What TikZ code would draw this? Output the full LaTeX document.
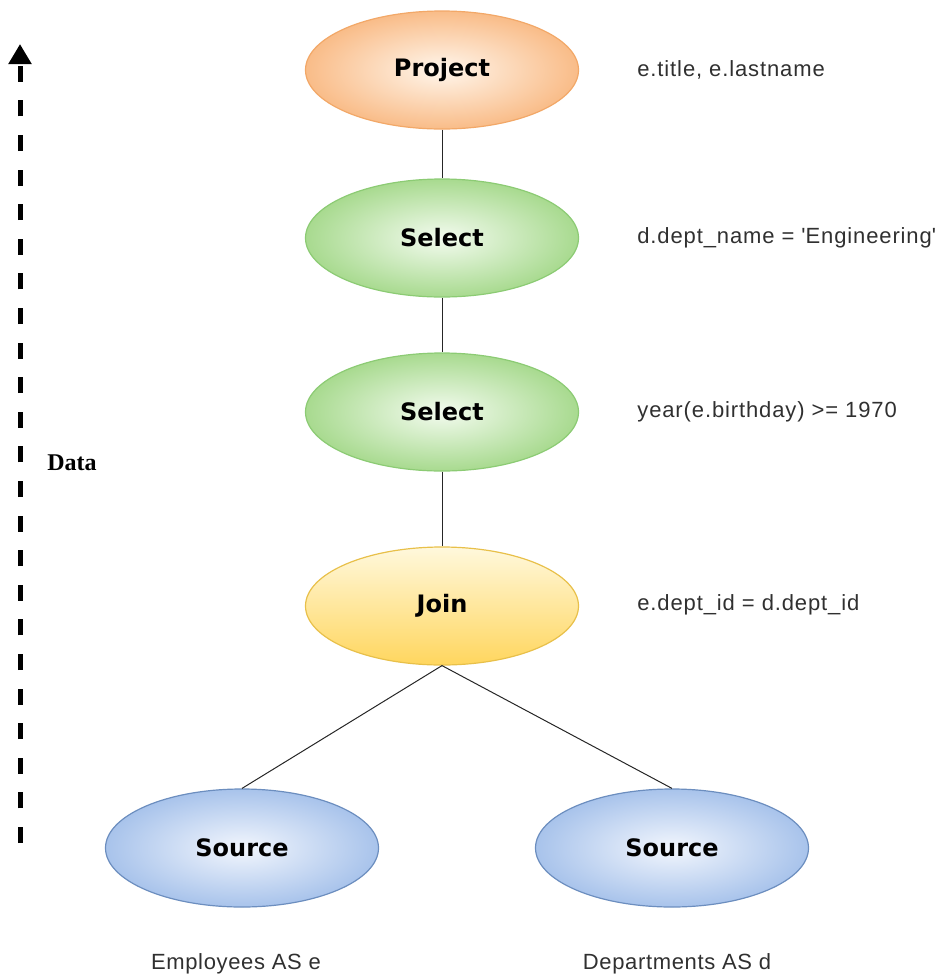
\documentclass[tikz,border=0pt]{standalone}
\usepackage{fontspec}
\setmainfont{Liberation Sans}
\newfontfamily\opfont{DejaVu Sans}
\newfontfamily\condfont[LetterSpace=4]{Liberation Sans}
\newfontfamily\tabfont[LetterSpace=3]{Liberation Sans}
\newfontfamily\datafont{Liberation Serif}
\usetikzlibrary{shapes.geometric,arrows.meta}

\definecolor{projline}{HTML}{F2A868}
\definecolor{projin}{HTML}{FFF6EC}
\definecolor{projout}{HTML}{F9BC88}
\definecolor{selline}{HTML}{8CCB74}
\definecolor{selin}{HTML}{F3FBEF}
\definecolor{selout}{HTML}{A8DA8F}
\definecolor{joinline}{HTML}{E8C04A}
\definecolor{jointop}{HTML}{FFF8DC}
\definecolor{joinbot}{HTML}{FFD65E}
\definecolor{srcline}{HTML}{6C8EBF}
\definecolor{srcin}{HTML}{F2F6FD}
\definecolor{srcout}{HTML}{A8C3EB}
\definecolor{condgray}{HTML}{303030}

\begin{document}
\begin{tikzpicture}[x=0.5pt, y=-0.5pt,
    op/.style={ellipse, draw, line width=0.6pt, minimum width=136.5pt, minimum height=59pt,
        inner sep=0pt, font=\opfont\bfseries\fontsize{12}{14}\selectfont},
    projectop/.style={op, draw=projline, inner color=projin, outer color=projout},
    selectop/.style={op, draw=selline, inner color=selin, outer color=selout},
    joinop/.style={op, draw=joinline, top color=jointop, bottom color=joinbot},
    sourceop/.style={op, draw=srcline, inner color=srcin, outer color=srcout},
    cond/.style={anchor=west, inner sep=0pt, text=condgray, font=\condfont\fontsize{11}{13}\selectfont},
    tname/.style={text=condgray, font=\tabfont\fontsize{11}{13}\selectfont},
    line/.style={draw=black!85, line width=0.5pt},
    dataarrow/.style={line width=2.5pt, dash pattern=on 8pt off 9.3pt,
        -{Triangle[length=10pt,width=11pt]}}]
    \useasboundingbox (0,0) rectangle (941,976);

    \node[projectop] (proj) at (442,70) {Project};
    \node[selectop] (sel1) at (442,238) {Select};
    \node[selectop] (sel2) at (442,412) {Select};
    \node[joinop] (join) at (442,606) {Join};
    \node[sourceop] (src1) at (242,848) {Source};
    \node[sourceop] (src2) at (672,848) {Source};

    \draw[line] (proj) -- (sel1);
    \draw[line] (sel1) -- (sel2);
    \draw[line] (sel2) -- (join);
    \draw[line] (join.south) -- (src1.north);
    \draw[line] (join.south) -- (src2.north);

    \node[cond] (c1) at (637,70) {e.title, e.lastname};
    \node[cond] (c2) at (637,238) {d.dept\_name = \textquotesingle Engineering\textquotesingle};
    \node[cond] (c3) at (637,412) {year(e.birthday) >= 1970};
    \node[cond] (c4) at (637,605) {e.dept\_id = d.dept\_id};

    \node[tname] (t1) at (236,964) {Employees AS e};
    \node[tname] (t2) at (677,964) {Departments AS d};

    % data flows upwards
    \coordinate (abot) at (20,843);
    \coordinate (atop) at (20,44);
    \draw[dataarrow] (abot) -- (atop);
    \node[anchor=west, inner sep=0pt, font=\datafont\bfseries\fontsize{12}{14}\selectfont] (data) at (47,463) {Data};
\end{tikzpicture}
\end{document}
